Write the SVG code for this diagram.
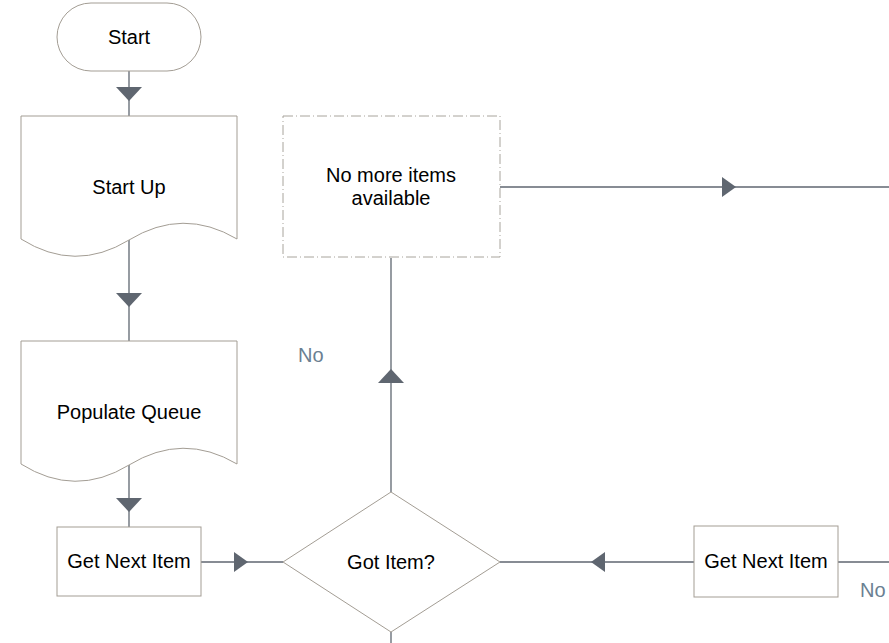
<svg xmlns="http://www.w3.org/2000/svg" width="889" height="643" viewBox="0 0 889 643">
<style>
.node{fill:#ffffff;stroke:#a39d94;stroke-width:1}
.dash{fill:#ffffff;stroke:#a8a49c;stroke-width:1;stroke-dasharray:10 3 1 3}
.lbl{font-family:"Liberation Sans",Arial,sans-serif;font-size:20px;fill:#000000;text-anchor:middle}
.edge{fill:none;stroke:#5f6670;stroke-width:1.3}
.ah{fill:#5f6670;stroke:none}
.elbl{font-family:"Liberation Sans",Arial,sans-serif;font-size:20px;fill:#6b7f92}
</style>
<rect width="889" height="643" fill="#ffffff"/>
<g id="connectors">
<line class="edge" x1="129" y1="71" x2="129" y2="116"/>
<polygon class="ah" points="116,87 142,87 129,101"/>
<line class="edge" x1="129" y1="240" x2="129" y2="341"/>
<polygon class="ah" points="116,293 142,293 129,307"/>
<line class="edge" x1="129" y1="465" x2="129" y2="527"/>
<polygon class="ah" points="116,498 142,498 129,512"/>
<line class="edge" x1="201" y1="562" x2="283" y2="562"/>
<polygon class="ah" points="234,552 234,572 248,562"/>
<line class="edge" x1="391" y1="492" x2="391" y2="258"/>
<polygon class="ah" points="378,383 404,383 391,369"/>
<line class="edge" x1="500" y1="187" x2="889" y2="187"/>
<polygon class="ah" points="722,177 722,197 736,187"/>
<line class="edge" x1="694" y1="562" x2="500" y2="562"/>
<polygon class="ah" points="605,552 605,572 591,562"/>
<line class="edge" x1="838" y1="562" x2="889" y2="562"/>
<line class="edge" x1="391" y1="632" x2="391" y2="643"/>
<text class="elbl" x="298" y="362">No</text>
<text class="elbl" x="860" y="597">No</text>
</g>
<g id="start">
<rect class="node" x="57" y="3" width="144" height="68" rx="34" ry="34"/>
<text class="lbl" x="129" y="44">Start</text>
</g>
<g id="startup">
<path class="node" d="M21,116 H237 V239 Q183,207 129,240 Q75,273 21,239 Z"/>
<text class="lbl" x="129" y="194">Start Up</text>
</g>
<g id="populate">
<path class="node" d="M21,341 H237 V464 Q183,432 129,465 Q75,498 21,464 Z"/>
<text class="lbl" x="129" y="419">Populate Queue</text>
</g>
<g id="getnext1">
<rect class="node" x="57" y="527" width="144" height="69"/>
<text class="lbl" x="129" y="568">Get Next Item</text>
</g>
<g id="gotitem">
<polygon class="node" points="391,492 500,562 391,632 283,562"/>
<text class="lbl" x="391" y="569">Got Item?</text>
</g>
<g id="nomore">
<rect class="dash" x="283" y="116" width="217" height="141"/>
<text class="lbl" x="391" y="182">No more items</text>
<text class="lbl" x="391" y="205">available</text>
</g>
<g id="getnext2">
<rect class="node" x="694" y="526" width="144" height="71"/>
<text class="lbl" x="766" y="568">Get Next Item</text>
</g>
</svg>
